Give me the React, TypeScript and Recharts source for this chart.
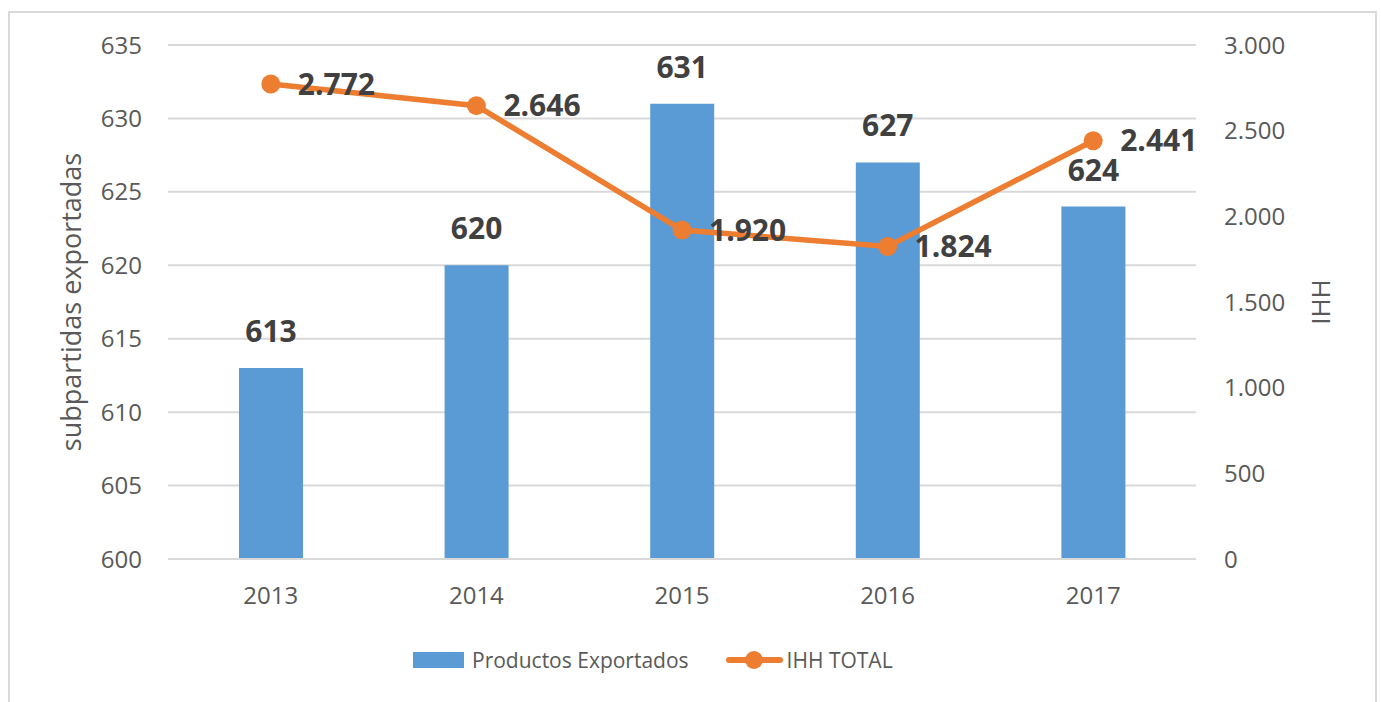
import React from 'react';
import { ComposedChart, Bar, Line, XAxis, YAxis, CartesianGrid, Legend, LabelList, Label } from 'recharts';

const years = ['2013', '2014', '2015', '2016', '2017'];
const productos = [613, 620, 631, 627, 624];
const ihh = [2772, 2646, 1920, 1824, 2441];
const leftTicks = [600, 605, 610, 615, 620, 625, 630, 635];
const rightTicks = [0, 500, 1000, 1500, 2000, 2500, 3000];

const data = years.map((y, i) => ({ year: y, productos: productos[i], ihh: ihh[i] }));

const fmt = (v: any) => {
  const n = Number(v);
  return n.toString().replace(/\B(?=(\d{3})+(?!\d))/g, '.');
};

const FONT = "'Open Sans', sans-serif";
const BLUE = '#5B9BD5';
const ORANGE = '#ED7D31';
const TICK = '#595959';
const LABEL = '#404040';

const renderLegend = (props: any) => {
  const payload = [...(props.payload || [])].sort((a: any, b: any) => (a.type === 'rect' ? -1 : 0) - (b.type === 'rect' ? -1 : 0));
  return (
    <div style={{ display: 'flex', alignItems: 'center', fontFamily: FONT, fontSize: 21, color: TICK, whiteSpace: 'nowrap' }}>
      {payload.map((entry: any, i: number) => (
        <div key={i} style={{ display: 'flex', alignItems: 'center', marginRight: i === 0 ? 37 : 0 }}>
          {entry.type === 'line' ? (
            <svg width={57} height={22} style={{ marginRight: 4 }}>
              <line x1={3} y1={11} x2={54} y2={11} stroke={ORANGE} strokeWidth={6} strokeLinecap="round" />
              <circle cx={28} cy={11} r={9} fill={ORANGE} />
            </svg>
          ) : (
            <span style={{ display: 'inline-block', width: 51, height: 16, background: BLUE, marginRight: 8 }} />
          )}
          <span>{entry.value}</span>
        </div>
      ))}
    </div>
  );
};

export default function App() {
  return (
    <div style={{ position: 'absolute', left: 0, top: 0, width: 1381, height: 702, background: '#fff', fontFamily: FONT, overflow: 'hidden' }}>
      <div style={{ position: 'absolute', left: 8, top: 11, width: 1369, height: 720, border: '2px solid #d9d9d9', boxSizing: 'border-box' }} />
      <div style={{ position: 'absolute', left: 0, top: 0 }}>
        <ComposedChart width={1381} height={702} data={data} margin={{ top: 45, right: 0, bottom: 83, left: 0 }}>
          <CartesianGrid yAxisId="left" vertical={false} stroke="#d9d9d9" strokeWidth={2} />
          <XAxis dataKey="year" tickLine={false} axisLine={{ stroke: '#d9d9d9', strokeWidth: 2 }} height={60} tickMargin={22}
            tick={{ fill: TICK, fontSize: 24, fontFamily: FONT }} />
          <YAxis yAxisId="left" orientation="left" width={168} domain={[600, 635]} ticks={leftTicks} tickLine={false} axisLine={false}
            tickMargin={20} tick={{ fill: TICK, fontSize: 24, fontFamily: FONT }} allowDataOverflow>
            <Label value="subpartidas exportadas" angle={-90} position="insideLeft" offset={71}
              style={{ textAnchor: 'middle', fill: TICK, fontSize: 27, fontFamily: FONT }} />
          </YAxis>
          <YAxis yAxisId="right" orientation="right" width={185} domain={[0, 3000]} ticks={rightTicks} tickLine={false} axisLine={false}
            tickMargin={22} tickFormatter={fmt} tick={{ fill: TICK, fontSize: 24, fontFamily: FONT }}>
            <Label value="IHH" angle={-90} position="insideRight" offset={60}
              style={{ textAnchor: 'middle', fill: TICK, fontSize: 26, fontFamily: FONT }} />
          </YAxis>
          <Legend verticalAlign="middle" layout="horizontal" content={renderLegend}
            wrapperStyle={{ position: 'absolute', left: 413, top: 646, width: 'auto' }} />
          <Bar yAxisId="left" dataKey="productos" name="Productos Exportados" fill={BLUE} barSize={64} legendType="rect" isAnimationActive={false}>
            <LabelList dataKey="productos" position="top" offset={26} fill={LABEL} fontSize={30} fontWeight="bold" fontFamily={FONT} />
          </Bar>
          <Line yAxisId="right" dataKey="ihh" name="IHH TOTAL" stroke={ORANGE} strokeWidth={5.5} legendType="line"
            dot={{ r: 9.5, fill: ORANGE, stroke: 'none' }} activeDot={false} isAnimationActive={false}>
            <LabelList dataKey="ihh" position="right" offset={27} formatter={fmt} fill={LABEL} fontSize={30} fontWeight="bold" fontFamily={FONT} />
          </Line>
        </ComposedChart>
      </div>
    </div>
  );
}
